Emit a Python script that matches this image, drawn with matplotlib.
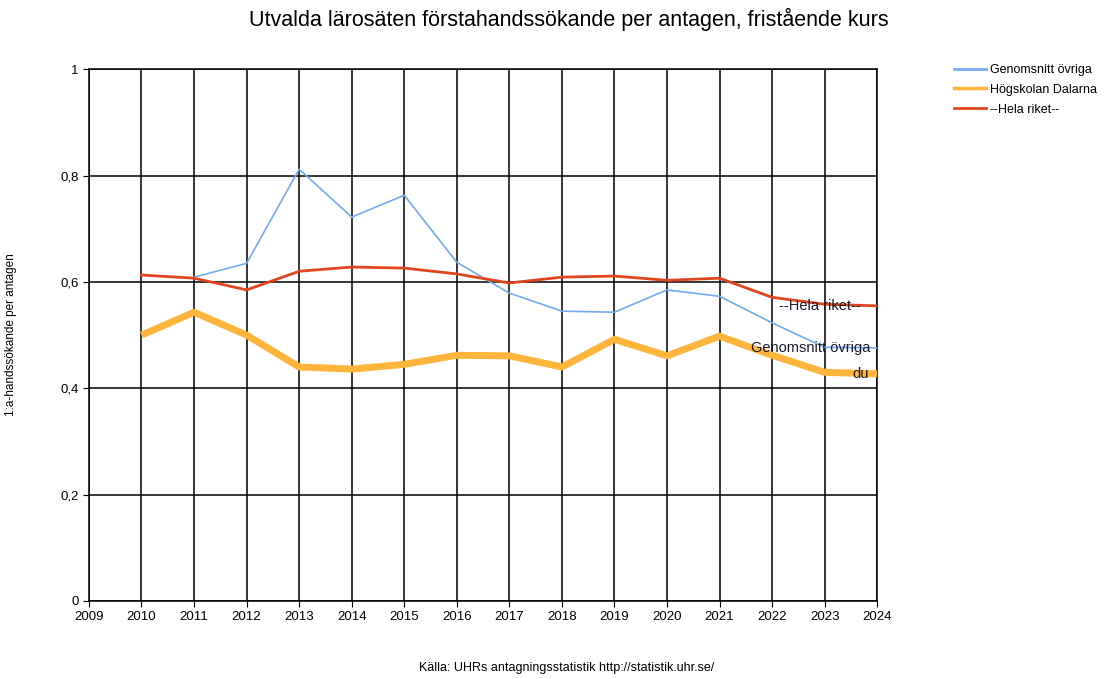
import matplotlib
matplotlib.use("Agg")
import matplotlib.pyplot as plt
from matplotlib.lines import Line2D
from matplotlib.ticker import FuncFormatter

# data
years_ovriga = [2011, 2012, 2013, 2014, 2015, 2016, 2017, 2018, 2019, 2020, 2021, 2022, 2023, 2024]
ovriga = [0.609, 0.635, 0.812, 0.722, 0.763, 0.637, 0.579, 0.545, 0.543, 0.585, 0.573, 0.523, 0.477, 0.476]

years = [2010, 2011, 2012, 2013, 2014, 2015, 2016, 2017, 2018, 2019, 2020, 2021, 2022, 2023, 2024]
dalarna = [0.500, 0.543, 0.500, 0.440, 0.436, 0.445, 0.462, 0.461, 0.440, 0.492, 0.461, 0.498, 0.462, 0.430, 0.427]
riket = [0.613, 0.607, 0.585, 0.620, 0.628, 0.626, 0.615, 0.598, 0.609, 0.611, 0.603, 0.607, 0.571, 0.558, 0.555]

xticks = list(range(2009, 2025))
yticks = [0, 0.2, 0.4, 0.6, 0.8, 1]

c_ovriga = '#73aaf0'
c_dalarna = '#ffb43c'
c_riket = '#e0461e'

plt.rcParams['font.family'] = ['Liberation Sans', 'DejaVu Sans']

fig = plt.figure(figsize=(11.16, 6.79), dpi=100)
ax = fig.add_axes([0.0797, 0.115, 0.7063, 0.783])

ax.plot(years_ovriga, ovriga, color=c_ovriga, lw=1.2, zorder=3)
ax.plot(years, dalarna, color=c_dalarna, lw=5, zorder=3, solid_capstyle='butt')
ax.plot(years, riket, color=c_riket, lw=2, zorder=3)

# end labels
ax.annotate('--Hela riket--', (years[-1], riket[-1]), xytext=(-12, 0), textcoords='offset points',
            ha='right', va='center', fontsize=10.5, color='#1a1a2a', zorder=4)
ax.annotate('Genomsnitt övriga', (years_ovriga[-1], ovriga[-1]), xytext=(-5, 0), textcoords='offset points',
            ha='right', va='center', fontsize=10.5, color='#1a1a2a', zorder=4)
ax.annotate('du', (years[-1], dalarna[-1]), xytext=(-6, 0), textcoords='offset points',
            ha='right', va='center', fontsize=10.5, color='#1a1a2a', zorder=4)

ax.set_xlim(2009, 2024)
ax.set_ylim(0, 1)
ax.set_xticks(xticks)
ax.set_yticks(yticks)
ax.yaxis.set_major_formatter(FuncFormatter(lambda v, p: ('%g' % v).replace('.', ',')))
ax.tick_params(labelsize=9.5, length=4, color='black')
ax.grid(True, color='black', lw=1.1)
for s in ax.spines.values():
    s.set_color('black')
    s.set_linewidth(1.1)

ax.set_ylabel('1:a-handssökande per antagen', fontsize=8.5)
ax.yaxis.set_label_coords(-0.091, 0.5)
fig.text(0.51, 0.972, 'Utvalda lärosäten förstahandssökande per antagen, fristående kurs',
         ha='center', va='center', fontsize=15.5)
fig.text(0.508, 0.016, 'Källa: UHRs antagningsstatistik http://statistik.uhr.se/',
         ha='center', va='center', fontsize=9)

handles = [Line2D([], [], color=c_ovriga, lw=2),
           Line2D([], [], color=c_dalarna, lw=2.5),
           Line2D([], [], color=c_riket, lw=2)]
labels = ['Genomsnitt övriga', 'Högskolan Dalarna', '--Hela riket--']
fig.legend(handles, labels, loc='upper left', bbox_to_anchor=(0.850, 0.913), frameon=False, fontsize=9,
           handlelength=2.6, handletextpad=0.35, labelspacing=0.62, borderaxespad=0)

fig.savefig('out.png', dpi=100)
